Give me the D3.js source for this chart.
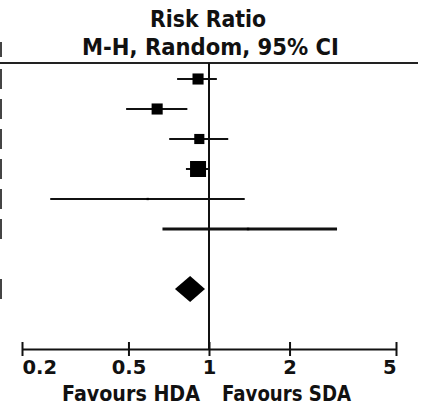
<!DOCTYPE html>
<meta charset="utf-8">
<head>
  <script src="https://d3js.org/d3.v7.min.js"></script>
  <style>
    body { margin: 0; background: #fff; }
    #my_dataviz { width: 423px; height: 406px; }
    text { font-family: "DejaVu Sans", Verdana, sans-serif; fill: #111; }
  </style>
</head>
<body>
<div id="my_dataviz"></div>
<script>

// study rows (risk ratio, 95% CI, weight %)
var studyEst    = [0.91, 0.64, 0.92, 0.91, 0.59, 1.40];
var studyLow    = [0.76, 0.49, 0.71, 0.82, 0.255, 0.67];
var studyHigh   = [1.07, 0.83, 1.18, 1.00, 1.36, 3.01];
var studyWeight = [12, 12, 10, 25, 0.5, 0.6];

// pooled estimate (diamond)
var pooledEst  = 0.85;
var pooledLow  = 0.746;
var pooledHigh = 0.966;

var tickValues = [0.2, 0.5, 1, 2, 5];
var tickLabels = ["0.2", "0.5", "1", "2", "5"];

var width = 423, height = 406;

var svg = d3.select("#my_dataviz")
  .append("svg")
    .attr("width", width)
    .attr("height", height);

var x = d3.scaleLog()
  .domain([0.2, 5])
  .range([22, 396]);

// row positions: 6 studies, a blank row, then the total
var y = d3.scaleLinear()
  .domain([0, 1])
  .range([79, 109]);

var size = d3.scaleSqrt()
  .domain([0, 25])
  .range([0, 16]);

// header
svg.append("text")
  .attr("x", 150).attr("y", 27)
  .attr("textLength", 116).attr("lengthAdjust", "spacingAndGlyphs")
  .style("font-size", "23px").style("font-weight", "bold")
  .text("Risk Ratio");
svg.append("text")
  .attr("x", 82).attr("y", 55)
  .attr("textLength", 257).attr("lengthAdjust", "spacingAndGlyphs")
  .style("font-size", "23px").style("font-weight", "bold")
  .text("M-H, Random, 95% CI");

svg.append("line")
  .attr("x1", 0).attr("x2", 418)
  .attr("y1", 63).attr("y2", 63)
  .attr("stroke", "#222").attr("stroke-width", 2);

// clipped edge of the table on the left
var edgeRows = [-1, 0, 1, 2, 3, 4, 5, 7];
svg.selectAll("edgeMark")
  .data(edgeRows)
  .enter()
  .append("rect")
  .attr("x", 0)
  .attr("y", function(d) { return d < 0 ? 42 : y(d) - 10; })
  .attr("width", 2)
  .attr("height", function(d) { return d < 0 ? 15 : 20; })
  .attr("fill", "#444");

// line of no effect
svg.append("line")
  .attr("x1", x(1)).attr("x2", x(1))
  .attr("y1", 63).attr("y2", 350)
  .attr("stroke", "#111").attr("stroke-width", 2);

// axis
var axis = svg.append("g")
  .attr("transform", "translate(0,349)")
  .call(d3.axisBottom(x)
    .tickValues(tickValues)
    .tickFormat(function(d, i) { return tickLabels[i]; })
    .tickSizeOuter(0)
    .tickSizeInner(7));

axis.select(".domain").attr("stroke", "#111").attr("stroke-width", 2);
axis.selectAll(".tick line")
  .attr("y1", -7).attr("y2", 7)
  .attr("stroke", "#111").attr("stroke-width", 2);
axis.selectAll(".tick text")
  .attr("y", 25)
  .attr("dy", null)
  .style("font-size", "19.5px")
  .style("font-weight", "bold")
  .style("font-family", "DejaVu Sans, Verdana, sans-serif")
  .attr("fill", "#111")
  .attr("text-anchor", function(d, i) {
    return i == 0 ? "start" : (i == tickValues.length - 1 ? "end" : "middle");
  });

svg.append("text")
  .attr("x", 62).attr("y", 401)
  .attr("textLength", 138).attr("lengthAdjust", "spacingAndGlyphs")
  .style("font-size", "21px").style("font-weight", "bold")
  .text("Favours HDA");
svg.append("text")
  .attr("x", 222).attr("y", 401)
  .attr("textLength", 129).attr("lengthAdjust", "spacingAndGlyphs")
  .style("font-size", "21px").style("font-weight", "bold")
  .text("Favours SDA");

// CI lines
svg.selectAll("ciLine")
  .data(studyEst)
  .enter()
  .append("line")
  .attr("x1", function(d, i) { return x(studyLow[i]); })
  .attr("x2", function(d, i) { return x(studyHigh[i]); })
  .attr("y1", function(d, i) { return y(i); })
  .attr("y2", function(d, i) { return y(i); })
  .attr("stroke", "#111")
  .attr("stroke-width", function(d, i) { return i == 5 ? 3 : 2; });

// weight squares
svg.selectAll("wSquare")
  .data(studyEst)
  .enter()
  .append("rect")
  .attr("x", function(d, i) { return x(d) - size(studyWeight[i]) / 2; })
  .attr("y", function(d, i) { return y(i) - size(studyWeight[i]) / 2; })
  .attr("width", function(d, i) { return size(studyWeight[i]); })
  .attr("height", function(d, i) { return size(studyWeight[i]); })
  .attr("fill", "#000");

// pooled diamond
var dy = y(7), h = 13;
svg.append("path")
  .attr("d", "M" + x(pooledLow) + "," + dy +
             "L" + x(pooledEst) + "," + (dy - h) +
             "L" + x(pooledHigh) + "," + dy +
             "L" + x(pooledEst) + "," + (dy + h) + "Z")
  .attr("fill", "#000");

</script>
</body>
